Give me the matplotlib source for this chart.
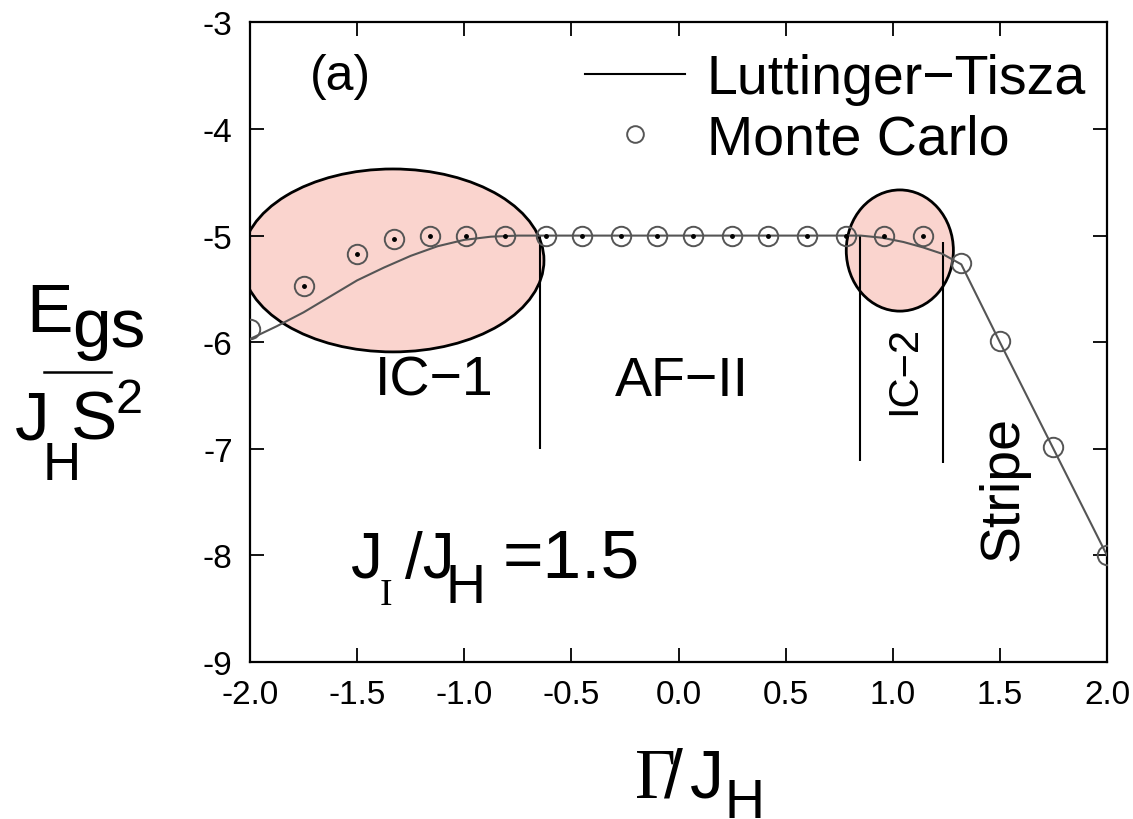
import numpy as np
import matplotlib
matplotlib.use("Agg")
import matplotlib.pyplot as plt
from matplotlib.patches import Ellipse
from matplotlib.lines import Line2D

plt.rcParams['font.family'] = ['Liberation Sans', 'DejaVu Sans']
plt.rcParams['axes.unicode_minus'] = False

# Luttinger-Tisza curve
lt_x = [-2.0, -1.875, -1.75, -1.625, -1.5, -1.375, -1.25, -1.125, -1.0, -0.875, -0.75,
        0.85, 0.95, 1.05, 1.14, 1.23, 1.32, 1.5, 1.75, 2.0]
lt_y = [-5.97, -5.85, -5.72, -5.57, -5.42, -5.30, -5.19, -5.10, -5.04, -5.01, -5.0,
        -5.0, -5.02, -5.06, -5.11, -5.17, -5.27, -6.0, -7.0, -8.0]

# Monte Carlo points
mc_x = [-2.0, -1.75, -1.5, -1.33, -1.16, -0.99, -0.81, -0.62, -0.45, -0.27, -0.10,
        0.07, 0.25, 0.42, 0.60, 0.78, 0.96, 1.14, 1.32, 1.5, 1.75, 2.0]
mc_y = [-5.88, -5.47, -5.17, -5.03, -5.0, -5.0, -5.0, -5.0, -5.0, -5.0, -5.0,
        -5.0, -5.0, -5.0, -5.0, -5.0, -5.0, -5.0, -5.26, -5.99, -6.98, -8.0]
mc_dotted = [False] + [True] * 17 + [False] * 4

# phase boundaries
bnd_x = [-0.646, 0.847, 1.233]
bnd_top = [-5.0, -5.0, -5.06]
bnd_bot = [-7.0, -7.11, -7.13]

# highlighted regions (center x, center y, width, height)
ell_cx = [-1.333, 1.033]
ell_cy = [-5.233, -5.14]
ell_w = [1.41, 0.50]
ell_h = [1.716, 1.137]

xticks = [-2.0, -1.5, -1.0, -0.5, 0.0, 0.5, 1.0, 1.5, 2.0]
yticks = [-3, -4, -5, -6, -7, -8, -9]

W, H = 1133, 820
fig = plt.figure(figsize=(W / 100, H / 100), dpi=100)
ax = fig.add_axes([250 / W, (H - 663) / H, 857 / W, (663 - 23.4) / H])

def px(x, y):
    return x / W, 1 - y / H

gray = '#555555'
for cx, cy, w, h in zip(ell_cx, ell_cy, ell_w, ell_h):
    ax.add_patch(Ellipse((cx, cy), w, h, facecolor='#fad4ce', edgecolor='black', lw=2, zorder=1))

ax.plot(lt_x, lt_y, color=gray, lw=1.5, zorder=3)
ax.plot(mc_x, mc_y, ls='none', marker='o', ms=14, mfc='none', mec=gray, mew=1.4, zorder=4)
dots = np.array(mc_dotted)
ax.plot(np.array(mc_x)[dots], np.array(mc_y)[dots], ls='none', marker='o', ms=2.5,
        color='black', zorder=5)
ax.vlines(bnd_x, bnd_bot, bnd_top, color='black', lw=1.5, zorder=2)

ax.set_xlim(-2.0, 2.0)
ax.set_ylim(-9, -3)
ax.set_xticks(xticks)
ax.set_xticklabels(['%.1f' % v for v in xticks])
ax.set_yticks(yticks)
ax.tick_params(direction='in', length=10, width=1.3, top=True, right=True, labelsize=24)
ax.tick_params(axis='x', pad=12)
ax.tick_params(axis='y', pad=12.5)
for s in ax.spines.values():
    s.set_linewidth(1.6)

ax.text(-1.58, -3.5, '(a)', fontsize=36, ha='center', va='center')
ax.text(-1.139, -6.36, 'IC\u22121', fontsize=40, ha='center', va='center')
ax.text(0.014, -6.36, 'AF\u2212II', fontsize=40, ha='center', va='center')
ax.text(1.052, -6.26, 'IC\u22122', fontsize=30, ha='center', va='center', rotation=90)
ax.text(1.519, -7.36, 'Stripe', fontsize=40, ha='center', va='center', rotation=90)

handles = [Line2D([], [], color='black', lw=1.5),
           Line2D([], [], ls='none', marker='o', ms=12, mfc='none', mec=gray, mew=1.4)]
ax.legend(handles, ['Luttinger\u2212Tisza', 'Monte Carlo'], loc='upper right',
          frameon=False, fontsize=40, handlelength=1.8, handletextpad=0.4,
          labelspacing=0.15, borderaxespad=0.1, bbox_to_anchor=(1.008, 0.995))

# y label pieces
fig.text(*px(26, 332), 'E', fontsize=50, va='baseline')
fig.text(*px(72, 347), 'gs', fontsize=50, va='baseline')
fig.add_artist(Line2D([44 / W, 111 / W], [1 - 373 / H, 1 - 373 / H], color='black', lw=1.8))
fig.text(*px(15, 440), 'J', fontsize=50, va='baseline')
fig.text(*px(43, 480), 'H', fontsize=38, va='baseline')
fig.text(*px(71, 440), 'S', fontsize=50, va='baseline')
fig.text(*px(116, 413), '2', fontsize=35, va='baseline')

# x label pieces
fig.text(*px(635, 798), '\u0393', fontsize=51, va='baseline', family='Liberation Serif')
fig.text(*px(664, 798), '/', fontsize=49, va='baseline')
fig.text(*px(690, 798), 'J', fontsize=49, va='baseline')
fig.text(*px(725, 818), 'H', fontsize=40, va='baseline')

# J_I/J_H = 1.5
fig.text(*px(351, 578), 'J', fontsize=46, va='baseline')
fig.text(*px(380, 605), 'I', fontsize=27, va='baseline', family='Liberation Serif')
fig.text(*px(405, 578), '/J', fontsize=46, va='baseline')
fig.text(*px(445, 603), 'H', fontsize=40, va='baseline')
fig.text(*px(503, 578), '=1.5', fontsize=50, va='baseline')

fig.savefig('out.png', dpi=100)
